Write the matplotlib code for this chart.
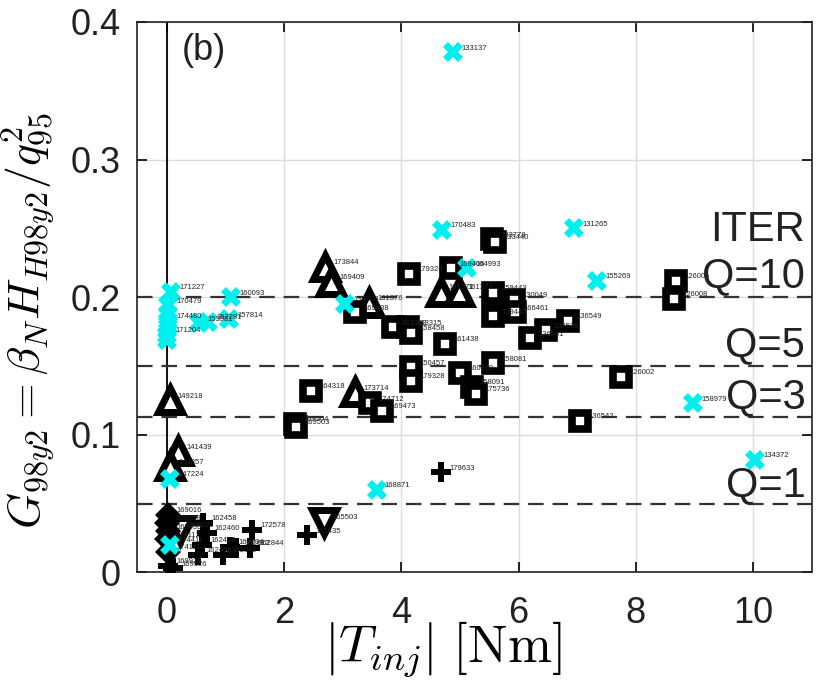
import matplotlib.pyplot as plt

plt.rcParams['font.family'] = ['Liberation Sans', 'DejaVu Sans']
plt.rcParams['mathtext.fontset'] = 'cm'

# open squares
sq_x = [2.46, 2.19, 2.21, 3.47, 3.68, 3.21, 3.86, 4.12, 4.17, 4.13, 4.17, 4.17, 4.75, 4.85,
        5.0, 5.2, 5.28, 5.55, 5.6, 5.57, 5.57, 5.92, 5.94, 5.57, 6.2, 6.46, 6.85, 7.05, 7.75,
        8.69, 8.65]
sq_y = [0.132, 0.108, 0.106, 0.123, 0.1175, 0.189, 0.178, 0.178, 0.174, 0.217, 0.149, 0.139,
        0.166, 0.221, 0.145, 0.135, 0.130, 0.242, 0.240, 0.203, 0.186, 0.198, 0.189, 0.152,
        0.170, 0.176, 0.183, 0.110, 0.142, 0.212, 0.199]
sq_lab = ['164318', '169504', '169503', '174712', '169473', '169438', '163303', '163315',
          '158458', '179328', '150457', '179328', '161438', '169406', '160809', '158091',
          '175736', '133778', '133440', '159443', '159440', '130049', '166461', '158081',
          '136541', '136539', '136549', '136542', '126002', '126006', '126008']

# open triangles (up)
tu_x = [0.05, 0.19, 0.06, 2.7, 2.81, 3.45, 3.21, 4.67, 4.99]
tu_y = [0.125, 0.088, 0.077, 0.222, 0.211, 0.196, 0.131, 0.204, 0.204]
tu_lab = ['149218', '141439', '144857', '173844', '169409', '161376', '173714', '161371', '161373']

# open triangles (down)
td_x = [2.68, 0.23]
td_y = [0.037, 0.031]
td_lab = ['165503', '169021']

# filled plus
pl_x = [4.68, 2.39, 1.45, 0.62, 0.68, 0.6, 0.53, 0.96, 1.08, 1.19, 1.42, 0.03, 0.11]
pl_y = [0.0728, 0.027, 0.031, 0.036, 0.029, 0.020, 0.0127, 0.0127, 0.0187, 0.0178, 0.0178,
        0.005, 0.003]
pl_lab = ['179633', '165435', '172578', '162458', '162460', '162462', '162466', '161940',
          '161934', '162612', '162844', '169928', '169926']

# filled diamonds
di_x = [0.02, 0.0, 0.03, 0.0, 0.02]
di_y = [0.042, 0.036, 0.030, 0.024, 0.015]
di_lab = ['169016', '169058', '169055', '174112', '174111']

# cyan crosses
cx_x = [4.89, 4.69, 6.94, 7.34, 5.12, 8.97, 10.03, 3.58, 0.06, 0.06, 0.08, 0.03, 0.03, 0.03,
        0.03, 0.0, 0.0, 1.1, 1.07, 0.55, 0.7, 3.04]
cx_y = [0.378, 0.249, 0.250, 0.212, 0.221, 0.123, 0.082, 0.060, 0.068, 0.020, 0.204, 0.194,
        0.188, 0.183, 0.178, 0.1725, 0.169, 0.200, 0.184, 0.181, 0.182, 0.195]
cx_lab = ['133137', '170483', '131265', '155269', '164993', '158979', '134372', '168871',
          '147224', '174411', '171227', '170479', '', '174480', '', '171204', '', '160093',
          '157814', '153581', '157281', '134368']

q_levels = [0.2, 0.15, 0.113, 0.05]
q_text = ['ITER', 'Q=10', 'Q=5', 'Q=3', 'Q=1']
q_text_y = [0.2487, 0.215, 0.165, 0.127, 0.0635]

fig = plt.figure(figsize=(8.3, 6.86), dpi=100)
ax = fig.add_axes([0.1655, 0.1655, 0.8125, 0.8025])

ax.grid(True, color='#dcdcdc', linewidth=1.0, zorder=0)
ax.axvline(0, color='black', linewidth=1.3, zorder=2)
for q in q_levels:
    ax.axhline(q, color='#333333', linewidth=1.6, dashes=(7, 4), zorder=2)

ax.plot(tu_x, tu_y, '^', ms=17, mfc='white', mec='black', mew=5, ls='none', zorder=3)
ax.plot(sq_x, sq_y, 's', ms=11, mfc='white', mec='black', mew=5.5, ls='none', zorder=3)
ax.plot(td_x, td_y, 'v', ms=17, mfc='white', mec='black', mew=5, ls='none', zorder=3)
ax.plot(pl_x, pl_y, 'P', ms=14, color='black', mew=0, ls='none', zorder=3)
ax.plot(di_x, di_y, 'D', ms=13, color='black', mew=0, ls='none', zorder=3)
ax.plot(cx_x, cx_y, 'X', ms=14, color='#00f0f0', mew=0, ls='none', zorder=4)

for xs, ys, labs in [(sq_x, sq_y, sq_lab), (tu_x, tu_y, tu_lab), (td_x, td_y, td_lab),
                     (pl_x, pl_y, pl_lab), (di_x, di_y, di_lab), (cx_x, cx_y, cx_lab)]:
    for x, y, s in zip(xs, ys, labs):
        ax.annotate(s, (x, y), xytext=(6, 3), textcoords='offset points',
                    fontsize=5.5, color='#222222', ha='left', va='center', zorder=5)

for s, y in zip(q_text, q_text_y):
    ax.text(10.89, y, s, fontsize=30, ha='right', va='center', color='#222222', zorder=6)
ax.text(0.25, 0.379, '(b)', fontsize=26, ha='left', va='center', color='#222222', zorder=6)

ax.set_xlim(-0.5, 11)
ax.set_ylim(0, 0.4)
ax.set_xticks([0, 2, 4, 6, 8, 10])
ax.set_yticks([0, 0.1, 0.2, 0.3, 0.4])
ax.set_yticklabels(['0', '0.1', '0.2', '0.3', '0.4'])
ax.tick_params(direction='in', length=7, width=1.2, top=True, right=True,
               labelsize=26, labelcolor='#222222')
ax.tick_params(axis='x', pad=17)
ax.tick_params(axis='y', pad=12)
for sp in ax.spines.values():
    sp.set_linewidth(1.2)
    sp.set_color('#222222')

ax.set_xlabel(r'$|T_{inj}|\ [\mathrm{Nm}]$', fontsize=38)
ax.set_ylabel(r'$G_{98y2}=\beta_N H_{H98y2}/q_{95}^2$', fontsize=33)
ax.xaxis.set_label_coords(0.453, -0.085)
ax.yaxis.set_label_coords(-0.12, 0.458)

fig.savefig('out.png', dpi=100)
